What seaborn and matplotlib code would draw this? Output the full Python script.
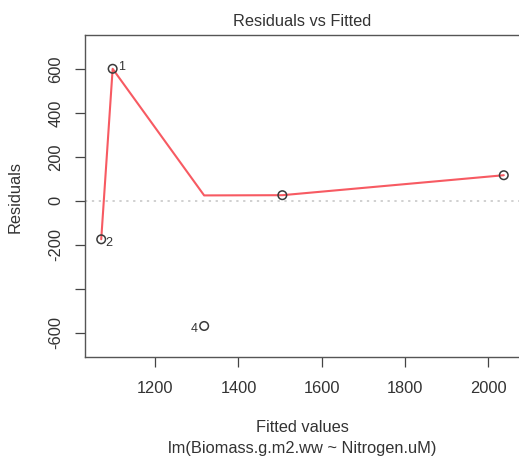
import matplotlib
matplotlib.use("Agg")
import matplotlib.pyplot as plt
import seaborn as sns
import pandas as pd

# Residuals vs fitted values for lm(Biomass.g.m2.ww ~ Nitrogen.uM)
obs_id = ["1", "2", "3", "4", "5"]
fitted = [1097.5, 1070.0, 2038.0, 1317.5, 1505.5]
residuals = [602.0, -175.0, 117.0, -570.0, 26.0]

# lowess smooth evaluated at the sorted fitted values
smooth_x = [1070.0, 1097.5, 1317.5, 1505.5, 2038.0]
smooth_y = [-175.0, 602.0, 25.0, 26.0, 117.0]

# observations flagged with their index
flagged = ["1", "2", "4"]

x_ticks = [1200, 1400, 1600, 1800, 2000]
y_ticks = [-600, -400, -200, 0, 200, 400, 600]
y_tick_labels = ["-600", "", "-200", "0", "200", "400", "600"]

df = pd.DataFrame({"id": obs_id, "fitted": fitted, "resid": residuals})
smooth = pd.DataFrame({"x": smooth_x, "y": smooth_y})

sns.set_theme(style="white")
plt.rcParams["font.family"] = ["Liberation Sans", "DejaVu Sans"]

FS = 11.8
TXT = "#333333"

fig = plt.figure(figsize=(5.19, 4.57), dpi=100)
ax = fig.add_axes([85 / 519, 1 - 356.7 / 457, 435 / 519, (356.7 - 35) / 457])

ax.axhline(0, color="#c4c4c4", lw=1.1, ls=(0, (1.5, 3)), zorder=1)

sns.lineplot(data=smooth, x="x", y="y", sort=False, estimator=None,
             color="#F75A62", lw=1.5, ax=ax, zorder=2)
sns.scatterplot(data=df, x="fitted", y="resid", marker="o", s=38,
                facecolor="none", edgecolor="#3a3a3a", linewidth=1.1,
                ax=ax, zorder=3)

# label offsets in pixels (dx, dy)
offsets = {"1": (5.0, 1.5, "left", "center"),
           "2": (4.0, -3.5, "left", "center"),
           "4": (-6.0, -3.5, "right", "center")}
for _, row in df.iterrows():
    if row["id"] in flagged:
        dx, dy, ha, va = offsets[row["id"]]
        ax.annotate(row["id"], (row["fitted"], row["resid"]),
                    xytext=(dx * 0.72, dy * 0.72), textcoords="offset points",
                    ha=ha, va=va, fontsize=9, color=TXT)

ax.set_xlim(1031, 2077)
ax.set_ylim(-710, 756)
ax.set_xticks(x_ticks)
ax.set_yticks(y_ticks)
ax.set_yticklabels(y_tick_labels)

ax.tick_params(axis="both", direction="out", length=7.2, width=0.9,
               color="#444444", labelsize=FS, labelcolor=TXT,
               left=True, bottom=True)
ax.tick_params(axis="x", pad=10.5)
ax.tick_params(axis="y", pad=8.5, labelrotation=90)
for lab in ax.get_yticklabels():
    lab.set_va("center")

for side in ["left", "bottom", "top"]:
    ax.spines[side].set_color("#555555")
    ax.spines[side].set_linewidth(1.0)
ax.spines["right"].set_visible(False)

ax.set_xlabel("")
ax.set_ylabel("")
fig.text(302 / 519, 1 - 428 / 457, "Fitted values", ha="center", va="center",
         fontsize=FS, color=TXT)
fig.text(302 / 519, 1 - 449 / 457, "lm(Biomass.g.m2.ww ~ Nitrogen.uM)",
         ha="center", va="center", fontsize=FS, color=TXT)
fig.text(15 / 519, 1 - 197 / 457, "Residuals", ha="center", va="center",
         rotation=90, fontsize=FS, color=TXT)
fig.text(302 / 519, 1 - 22 / 457, "Residuals vs Fitted", ha="center",
         va="center", fontsize=FS, color=TXT)

fig.savefig("out.png", dpi=100)
